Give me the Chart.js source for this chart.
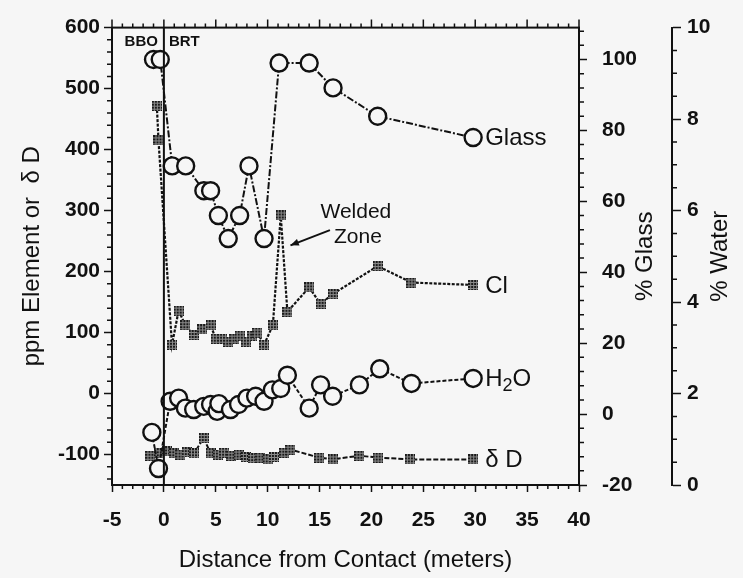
<!DOCTYPE html>
<html lang="en">
<head>
<meta charset="UTF-8" />
<title>Distance from Contact</title>
<script src="https://cdn.jsdelivr.net/npm/chart.js"></script>
<style>
  body { margin: 0; background: #f6f6f6; }
  #wrap { width: 743px; height: 578px; }
</style>
</head>
<body>
<div id="wrap"><canvas id="chart" width="743" height="578"></canvas></div>
<script>
// distance from contact (m) and values
const glassX   = [-1.0, -0.35, 0.8, 2.1, 3.85, 4.5, 5.25, 6.2, 7.3, 8.2, 9.65, 11.1, 14.0, 16.3, 20.6, 29.8];
const glassPct = [100, 100, 70, 70, 63, 63, 56, 49.5, 56, 70, 49.5, 99, 99, 92, 84, 78];

const clX   = [-0.68, -0.52, 0.78, 1.42, 2.07, 2.87, 3.68, 4.5, 5.0, 5.6, 6.2, 6.8, 7.3, 7.9, 8.5, 9.0, 9.65, 10.5, 11.26, 11.9, 14.0, 15.1, 16.26, 20.6, 23.85, 29.8];
const clPpm = [472, 415, 80, 136, 112, 96, 105, 112, 90, 90, 85, 90, 95, 85, 95, 100, 80, 112, 292, 134, 174, 147, 163, 209, 182, 178];

const waterX   = [-1.16, -0.52, 0.6, 1.42, 2.07, 2.87, 3.84, 4.5, 5.13, 5.3, 6.42, 7.2, 8.0, 8.84, 9.65, 10.45, 11.26, 11.9, 14.0, 15.1, 16.26, 18.84, 20.8, 23.85, 29.8];
const waterPct = [1.15, 0.36, 1.83, 1.9, 1.68, 1.65, 1.72, 1.76, 1.61, 1.78, 1.65, 1.76, 1.9, 1.94, 1.83, 2.08, 2.11, 2.4, 1.68, 2.19, 1.94, 2.19, 2.54, 2.22, 2.33];

const ddX = [-1.3, -0.5, 0.3, 1.0, 1.6, 2.2, 2.9, 3.84, 4.5, 5.2, 5.8, 6.5, 7.2, 7.9, 8.6, 9.3, 10.0, 10.6, 11.6, 12.2, 14.97, 16.26, 18.84, 20.6, 23.7, 29.8];
const ddPermil = [-102, -98, -95, -98, -100, -96, -98, -73, -98, -100, -97, -102, -100, -104, -106, -105, -108, -104, -97, -92, -105, -108, -102, -105, -108, -108];

const seriesNames = ['Glass', 'Cl', 'H2O', 'δ D'];

const FONT = "'Liberation Sans', Arial, sans-serif";
const INK = '#111';
const BG = '#f6f6f6';

const pts = (xs, ys) => xs.map((x, i) => ({ x, y: ys[i] }));

function hatchMarker() {
  const c = document.createElement('canvas');
  c.width = 10; c.height = 10;
  const g = c.getContext('2d');
  g.fillStyle = '#1a1a1a';
  g.fillRect(0, 0, 10, 10);
  g.fillStyle = '#8a8a8a';
  for (let i = 2; i < 10; i += 3) {
    g.fillRect(i, 0, 1, 10);
    g.fillRect(0, i, 10, 1);
  }
  return c;
}
const hatch = hatchMarker();

function minor(ctx, scale, from, to, step, skip, draw) {
  for (let v = from; v <= to + 1e-9; v += step) {
    const r = Math.round(v * 100) / 100;
    if (skip(r)) continue;
    draw(scale.getPixelForValue(r));
  }
}

const decor = {
  id: 'decor',
  beforeDraw(chart) {
    const c = chart.ctx;
    c.save();
    c.fillStyle = BG;
    c.fillRect(0, 0, chart.width, chart.height);
    c.restore();
  },
  afterDraw(chart) {
    const c = chart.ctx;
    const a = chart.chartArea;
    const sx = chart.scales.x, sy = chart.scales.y, sg = chart.scales.glass, sw = chart.scales.water;
    c.save();
    c.strokeStyle = INK;
    c.fillStyle = INK;

    // frame
    c.lineWidth = 2;
    c.strokeRect(a.left, a.top, a.right - a.left, a.bottom - a.top);

    // minor ticks
    c.lineWidth = 1.5;
    c.beginPath();
    minor(c, sx, -5, 40, 1, v => v % 5 === 0, p => {
      c.moveTo(p, a.bottom); c.lineTo(p, a.bottom + 4);
      c.moveTo(p, a.top); c.lineTo(p, a.top - 4);
    });
    minor(c, sx, -5, 40, 5, v => false, p => {
      c.moveTo(p, a.top); c.lineTo(p, a.top - 8);
    });
    minor(c, sy, -140, 580, 20, v => v % 100 === 0, p => {
      c.moveTo(sy.right - 5, p); c.lineTo(sy.right, p);
    });
    minor(c, sg, -20, 108, 4, v => v % 20 === 0, p => {
      c.moveTo(sg.left, p); c.lineTo(sg.left + 5, p);
    });
    minor(c, sw, 0, 10, 0.5, v => v % 2 === 0, p => {
      c.moveTo(sw.left, p); c.lineTo(sw.left + 5, p);
    });
    c.stroke();

    // contact line at 0 m
    const x0 = sx.getPixelForValue(0);
    c.lineWidth = 2;
    c.beginPath();
    c.moveTo(x0, a.top); c.lineTo(x0, a.bottom);
    c.stroke();

    c.font = 'bold 15px ' + FONT;
    c.textBaseline = 'middle';
    c.textAlign = 'right';
    c.fillText('BBO', x0 - 6, a.top + 14);
    c.textAlign = 'left';
    c.fillText('BRT', x0 + 5, a.top + 14);

    // welded zone note
    c.font = '21px ' + FONT;
    c.textAlign = 'center';
    c.fillText('Welded', sx.getPixelForValue(18.5), sy.getPixelForValue(298));
    c.fillText('Zone', sx.getPixelForValue(18.7), sy.getPixelForValue(257));
    const ax1 = sx.getPixelForValue(16.0), ay1 = sy.getPixelForValue(268);
    const ax2 = sx.getPixelForValue(12.2), ay2 = sy.getPixelForValue(243);
    c.lineWidth = 2;
    c.beginPath();
    c.moveTo(ax1, ay1); c.lineTo(ax2, ay2);
    c.stroke();
    const ang = Math.atan2(ay2 - ay1, ax2 - ax1);
    c.beginPath();
    c.moveTo(ax2, ay2);
    c.lineTo(ax2 - 9 * Math.cos(ang - 0.4), ay2 - 9 * Math.sin(ang - 0.4));
    c.lineTo(ax2 - 9 * Math.cos(ang + 0.4), ay2 - 9 * Math.sin(ang + 0.4));
    c.closePath();
    c.fill();

    // series labels at line ends
    c.font = '24px ' + FONT;
    c.textAlign = 'left';
    chart.data.datasets.forEach((ds, i) => {
      const meta = chart.getDatasetMeta(i);
      const last = meta.data[meta.data.length - 1];
      const lx = last.x + 12, ly = last.y + 1;
      if (ds.label === 'H2O') {
        c.fillText('H', lx, ly);
        let w = c.measureText('H').width;
        c.font = '18px ' + FONT;
        c.fillText('2', lx + w, ly + 7);
        w += c.measureText('2').width;
        c.font = '24px ' + FONT;
        c.fillText('O', lx + w, ly);
      } else {
        c.fillText(ds.label, lx, ly);
      }
    });

    // right axis titles, reading bottom to top
    c.font = '24px ' + FONT;
    c.textAlign = 'center';
    const midY = (a.top + a.bottom) / 2;
    [[sg, sg.left + 66, '% Glass'], [sw, sw.left + 48, '% Water']].forEach(([s, tx, t]) => {
      c.save();
      c.translate(tx, midY);
      c.rotate(-Math.PI / 2);
      c.fillText(t, 0, 0);
      c.restore();
    });
    c.restore();
  }
};

const tickFont = { family: FONT, size: 21, weight: 'bold' };
const lineDs = (label, data, axis, style) => Object.assign({
  label, data, yAxisID: axis, showLine: true,
  borderColor: INK, borderWidth: 2, pointBorderColor: INK
}, style);

new Chart(document.getElementById('chart'), {
  type: 'scatter',
  data: {
    datasets: [
      lineDs(seriesNames[0], pts(glassX, glassPct), 'glass', {
        borderDash: [7, 2, 2, 2], pointRadius: 8.5, pointBorderWidth: 2.4, pointBackgroundColor: BG
      }),
      lineDs(seriesNames[1], pts(clX, clPpm), 'y', {
        borderDash: [3, 1.5], borderWidth: 2.2, pointStyle: hatch, pointRadius: 5
      }),
      lineDs(seriesNames[2], pts(waterX, waterPct), 'water', {
        borderDash: [4, 2], pointRadius: 8.5, pointBorderWidth: 2.4, pointBackgroundColor: BG
      }),
      lineDs(seriesNames[3], pts(ddX, ddPermil), 'y', {
        borderDash: [5, 2], pointStyle: hatch, pointRadius: 5
      })
    ]
  },
  options: {
    responsive: false,
    animation: false,
    layout: { padding: { top: 19, left: 0, right: 0, bottom: 0 } },
    plugins: { legend: { display: false }, tooltip: { enabled: false } },
    scales: {
      x: {
        type: 'linear', position: 'bottom', min: -5, max: 40,
        ticks: { stepSize: 5, color: INK, font: tickFont, padding: 16, maxRotation: 0 },
        grid: { drawOnChartArea: false, color: INK, tickLength: 7, tickWidth: 1.5 },
        border: { color: INK, width: 2 },
        title: { display: true, text: 'Distance from Contact (meters)', color: INK,
                 font: { family: FONT, size: 24 }, padding: { top: 4, bottom: 3 } },
        afterFit: s => { s.height = 93; }
      },
      y: {
        position: 'left', min: -150, max: 600,
        ticks: { stepSize: 100, includeBounds: false, color: INK, font: tickFont, padding: 4 },
        grid: { drawOnChartArea: false, color: INK, tickLength: 8, tickWidth: 1.5 },
        border: { color: INK, width: 2 },
        title: { display: true, text: 'ppm Element or  δ D', color: INK,
                 font: { family: FONT, size: 24 }, padding: { top: 18, bottom: 0 } },
        afterFit: s => { s.width = 112; }
      },
      glass: {
        position: 'right', weight: 0, min: -20, max: 109,
        ticks: { stepSize: 20, includeBounds: false, color: INK, font: tickFont, padding: 15 },
        grid: { drawOnChartArea: false, color: INK, tickLength: 8, tickWidth: 1.5 },
        border: { color: INK, width: 2 },
        afterFit: s => { s.width = 93; }
      },
      water: {
        position: 'right', weight: 1, min: 0, max: 10,
        ticks: { stepSize: 2, color: INK, font: tickFont, padding: 6 },
        grid: { drawOnChartArea: false, color: INK, tickLength: 9, tickWidth: 1.5 },
        border: { color: INK, width: 2 },
        afterFit: s => { s.width = 71; }
      }
    }
  },
  plugins: [decor]
});
</script>
</body>
</html>
